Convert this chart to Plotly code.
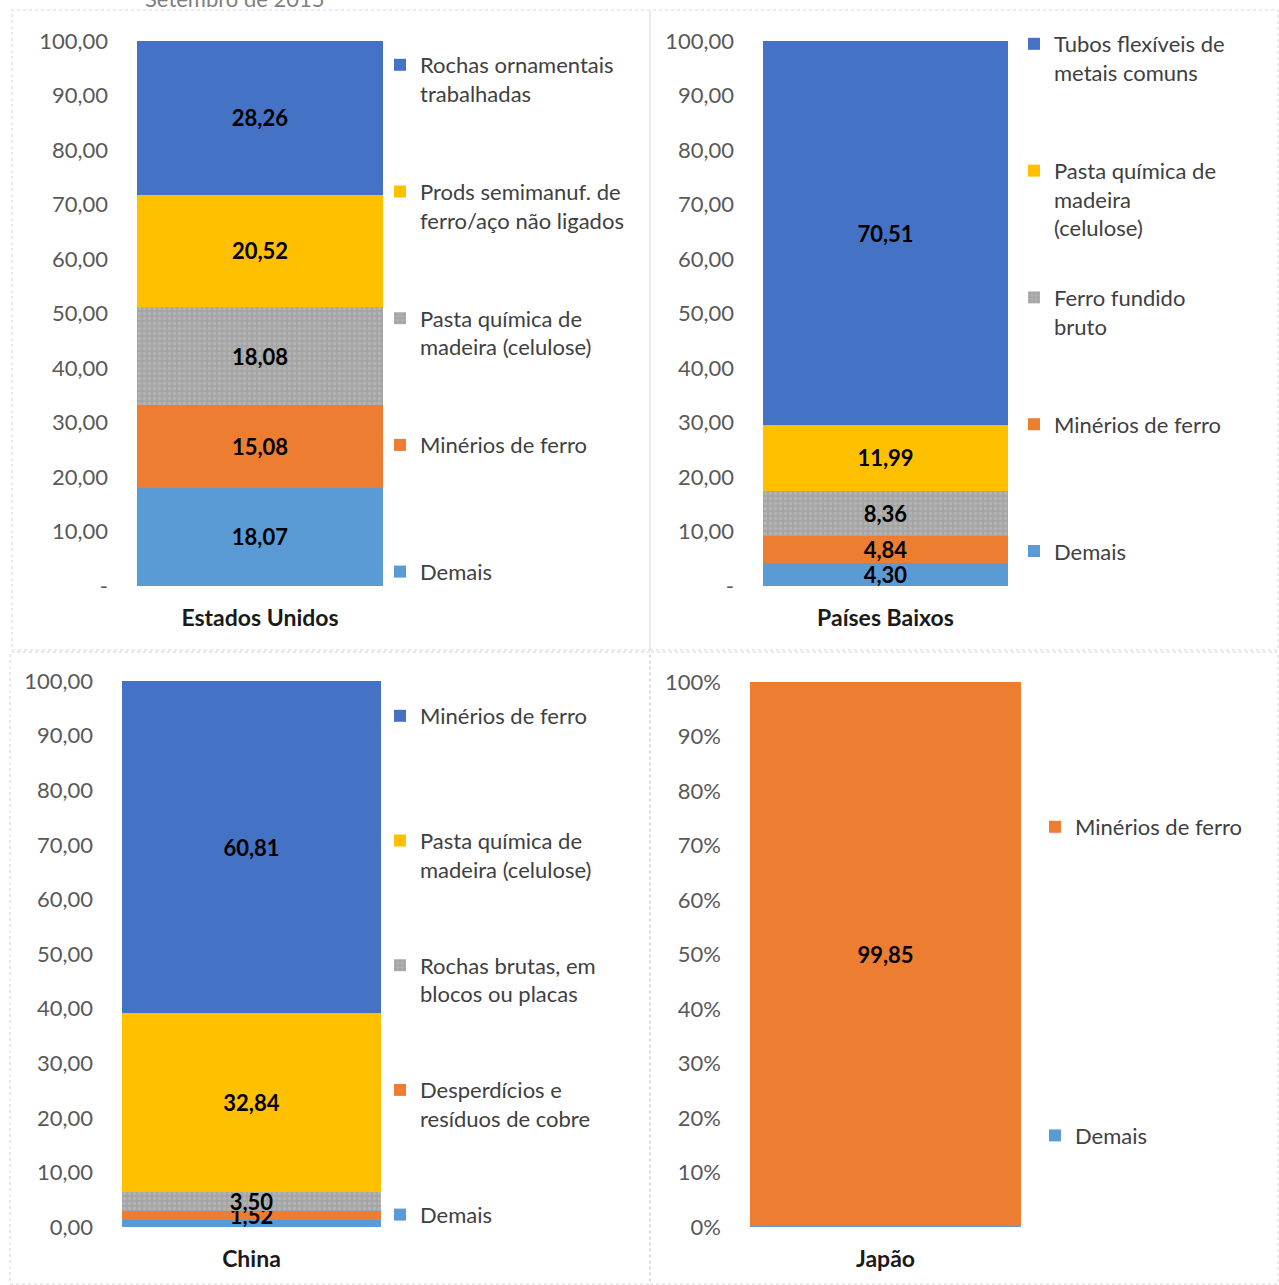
import plotly.graph_objects as go

W, H = 1279, 1285

# ---------------- data ----------------
subtitle = "Setembro de 2015"

us_category = ["Estados Unidos"]
us_series = ["Demais", "Minérios de ferro", "Pasta química de<br>madeira (celulose)",
             "Prods semimanuf. de<br>ferro/aço não ligados", "Rochas ornamentais<br>trabalhadas"]
us_values = [18.07, 15.08, 18.08, 20.52, 28.26]
us_show_label = [True, True, True, True, True]

nl_category = ["Países Baixos"]
nl_series = ["Demais", "Minérios de ferro", "Ferro fundido<br>bruto",
             "Pasta química de<br>madeira<br>(celulose)", "Tubos flexíveis de<br>metais comuns"]
nl_values = [4.30, 4.84, 8.36, 11.99, 70.51]
nl_show_label = [True, True, True, True, True]

cn_category = ["China"]
cn_series = ["Demais", "Desperdícios e<br>resíduos de cobre", "Rochas brutas, em<br>blocos ou placas",
             "Pasta química de<br>madeira (celulose)", "Minérios de ferro"]
cn_values = [1.33, 1.52, 3.50, 32.84, 60.81]
cn_show_label = [False, True, True, True, True]

jp_category = ["Japão"]
jp_series = ["Demais", "Minérios de ferro"]
jp_values = [0.15, 99.85]
jp_show_label = [False, True]

tick_vals = [0, 10, 20, 30, 40, 50, 60, 70, 80, 90, 100]
tick_text_dash = ["-", "10,00", "20,00", "30,00", "40,00", "50,00",
                  "60,00", "70,00", "80,00", "90,00", "100,00"]
tick_text_zero = ["0,00", "10,00", "20,00", "30,00", "40,00", "50,00",
                  "60,00", "70,00", "80,00", "90,00", "100,00"]
tick_text_pct = ["0%", "10%", "20%", "30%", "40%", "50%",
                 "60%", "70%", "80%", "90%", "100%"]

# ---------------- styles ----------------
STACK_COLORS = ["#5B9BD5", "#ED7D31", "#A5A5A5", "#FFC000", "#4472C4"]
FONT = "Lato, 'Open Sans', sans-serif"
TICK_COLOR = "#595959"
LEGEND_COLOR = "#404040"
TICK_SIZE = 22
LEGEND_SIZE = 22
LABEL_SIZE = 22
CAT_SIZE = 23


def px(x):
    return x / W


def py(y):
    return 1 - y / H


panels = [
    dict(cat=us_category, series=us_series, values=us_values, show=us_show_label,
         ticktext=tick_text_dash, xd=(137, 383), yd=(41, 586), lx=380, ly=44, gap=66.5, lines=2),
    dict(cat=nl_category, series=nl_series, values=nl_values, show=nl_show_label,
         ticktext=tick_text_dash, xd=(763, 1008), yd=(41, 586), lx=1014, ly=23, gap=38, lines=3),
    dict(cat=cn_category, series=cn_series, values=cn_values, show=cn_show_label,
         ticktext=tick_text_zero, xd=(122, 381), yd=(681, 1227), lx=380, ly=695, gap=64.5, lines=2),
    dict(cat=jp_category, series=jp_series, values=jp_values, show=jp_show_label,
         ticktext=tick_text_pct, xd=(750, 1021), yd=(682, 1227), lx=1035, ly=806, gap=277, lines=1),
]

fig = go.Figure()
layout = dict(
    width=W, height=H, autosize=False,
    margin=dict(l=0, r=0, t=0, b=0, autoexpand=False),
    paper_bgcolor="white", plot_bgcolor="white",
    barmode="stack",
    font=dict(family=FONT, size=20, color=TICK_COLOR),
    showlegend=True,
)

for i, p in enumerate(panels):
    n = i + 1
    sfx = "" if n == 1 else str(n)
    xa, ya = "x" + sfx, "y" + sfx
    lg = "legend" + sfx
    for j, (name, val, show) in enumerate(zip(p["series"], p["values"], p["show"])):
        nl = name.count("<br>") + 1
        legend_name = name + "<br> " * (p["lines"] - nl)
        color = STACK_COLORS[j]
        marker = dict(color=color, line=dict(width=0))
        if color == "#A5A5A5":
            marker["pattern"] = dict(shape=".", fgcolor="#C4C4C4", bgcolor=color,
                                     size=5, solidity=0.35)
        lbl = (f"{val:.2f}".replace(".", ",")) if show else ""
        fig.add_trace(go.Bar(
            x=p["cat"], y=[val], name=legend_name,
            xaxis=xa, yaxis=ya, legend=lg,
            legendgroup=f"p{n}s{j}", legendrank=1000 - j,
            marker=marker, width=1,
            text=[lbl], texttemplate="%{text}",
            textposition="inside", insidetextanchor="middle",
            textangle=0, constraintext="none",
            textfont=dict(family=FONT, size=LABEL_SIZE, color="#000000", weight="bold"),
            hoverinfo="skip",
        ))
    layout["xaxis" + sfx] = dict(
        domain=[px(p["xd"][0]), px(p["xd"][1])], anchor=ya,
        range=[-0.5, 0.5], showgrid=False, zeroline=False, showline=False,
        ticks="", ticklabelstandoff=16, automargin=False,
        tickfont=dict(family=FONT, size=CAT_SIZE, color="#1A1A1A", weight="bold"),
        fixedrange=True,
    )
    layout["yaxis" + sfx] = dict(
        domain=[py(p["yd"][1]), py(p["yd"][0])], anchor=xa,
        range=[0, 100], showgrid=False, zeroline=False, showline=False,
        tickmode="array", tickvals=tick_vals, ticktext=p["ticktext"],
        ticks="", ticklabelstandoff=28, automargin=False,
        tickfont=dict(family=FONT, size=TICK_SIZE, color=TICK_COLOR),
        fixedrange=True,
    )
    layout[lg] = dict(
        x=px(p["lx"]), y=py(p["ly"]), xanchor="left", yanchor="top",
        traceorder="reversed+grouped", tracegroupgap=p["gap"],
        valign="top", bgcolor="rgba(0,0,0,0)", borderwidth=0,
        font=dict(family=FONT, size=LEGEND_SIZE, color=LEGEND_COLOR),
        itemclick=False, itemdoubleclick=False,
    )

# panel borders
border = dict(color="#D6D6D6", width=1, dash="dot")
shapes = []
for (x0, y0, x1, y1) in [(12, 10, 650, 650), (650, 10, 1278, 650),
                         (10, 652, 650, 1284), (650, 652, 1278, 1284)]:
    shapes.append(dict(type="rect", xref="paper", yref="paper",
                       x0=px(x0), x1=px(x1), y0=py(y1), y1=py(y0),
                       line=border, fillcolor="rgba(0,0,0,0)", layer="below"))
layout["shapes"] = shapes

layout["annotations"] = [dict(
    text=subtitle, xref="paper", yref="paper", x=px(235), y=py(-2),
    xanchor="center", yanchor="middle", showarrow=False,
    font=dict(family=FONT, size=22, color="#808080"),
)]

fig.update_layout(**layout)
fig.write_html("out.html", config={"displayModeBar": False},
               post_script="document.body.style.margin='0';")
